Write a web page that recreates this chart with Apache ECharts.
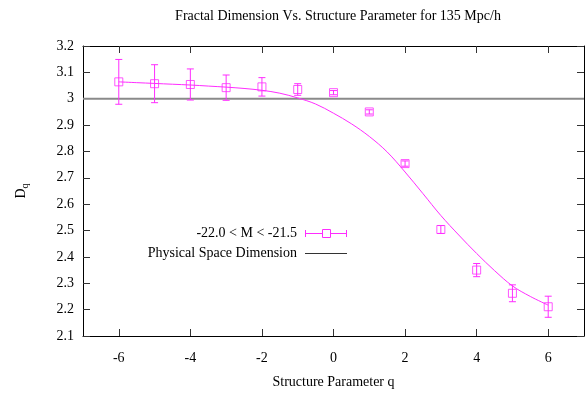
<!DOCTYPE html>
<html>
<head>
<meta charset="utf-8">
<script src="https://cdn.jsdelivr.net/npm/echarts@6/dist/echarts.min.js"></script>
<style>
html,body{margin:0;padding:0;background:#fff;}
#chart{width:587px;height:398px;}
</style>
</head>
<body>
<div id="chart"></div>
<script>
// ---- data ----
var qValues = [-6, -5, -4, -3, -2, -1, 0, 1, 2, 3, 4, 5, 6];
var dValues = [3.064, 3.057, 3.054, 3.042, 3.045, 3.035, 3.023, 2.950, 2.754, 2.504, 2.350, 2.262, 2.211];
var dErrors = [0.085, 0.072, 0.059, 0.048, 0.035, 0.022, 0.008, 0.008, 0.010, 0.015, 0.025, 0.032, 0.040];

var fitQ = [-6, -5.5, -5, -4.5, -4, -3.5, -3, -2.5, -2, -1.5, -1, -0.5, 0, 0.5, 1, 1.5, 2, 2.5, 3, 3.5, 4, 4.5, 5, 5.5, 6];
var fitD = [3.064, 3.061, 3.058, 3.055, 3.052, 3.048, 3.044, 3.039, 3.032, 3.021, 3.003, 2.980, 2.945, 2.905, 2.857, 2.798, 2.722, 2.640, 2.557, 2.483, 2.413, 2.348, 2.290, 2.250, 2.217];

var physQ = [-7, 7];
var physD = [3, 3];

var xTicks = [-6, -4, -2, 0, 2, 4, 6];
var yTicks = [2.1, 2.2, 2.3, 2.4, 2.5, 2.6, 2.7, 2.8, 2.9, 3.0, 3.1, 3.2];

var titleText = 'Fractal Dimension Vs. Structure Parameter for 135 Mpc/h';
var xName = 'Structure Parameter q';
var seriesName = '-22.0 < M < -21.5';
var refName = 'Physical Space Dimension';

// ---- build ----
var MAG = '#ff2cff';
var FONT = '"Liberation Serif", "DejaVu Serif", serif';
var FS = 14;

var pointData = qValues.map(function (q, i) { return [q, dValues[i], dErrors[i]]; });
var fitData = fitQ.map(function (q, i) { return [q, fitD[i]]; });
var physData = physQ.map(function (q, i) { return [q, physD[i]]; });

var chart = echarts.init(document.getElementById('chart'), null, {renderer: 'canvas'});

function baseX(pos, showLabels) {
  return {
    type: 'value', position: pos, min: -7, max: 7,
    axisLine: {show: true, onZero: false, lineStyle: {color: '#000', width: 1}},
    axisTick: {show: true, inside: true, length: 7, customValues: xTicks, lineStyle: {color: '#333'}},
    axisLabel: {show: showLabels, customValues: xTicks, margin: 15, color: '#000', fontFamily: FONT, fontSize: FS},
    splitLine: {show: false}
  };
}
function baseY(pos, showLabels) {
  return {
    type: 'value', position: pos, min: 2.1, max: 3.2,
    axisLine: {show: true, onZero: false, lineStyle: {color: '#000', width: 1}},
    axisTick: {show: true, inside: true, length: 7, customValues: yTicks, lineStyle: {color: '#333'}},
    axisLabel: {show: showLabels, customValues: yTicks, margin: 9, color: '#000', fontFamily: FONT, fontSize: FS,
      formatter: function (v) { return String(Math.round(v * 10) / 10); }},
    splitLine: {show: false}
  };
}

var xBottom = baseX('bottom', true);
xBottom.name = xName;
xBottom.nameLocation = 'middle';
xBottom.nameGap = 46;
xBottom.nameTextStyle = {fontFamily: FONT, fontSize: FS, color: '#000', verticalAlign: 'middle'};
var xTop = baseX('top', false);

var yLeft = baseY('left', true);
yLeft.name = '{d|D}{q|q}';
yLeft.nameLocation = 'middle';
yLeft.nameRotate = 90;
yLeft.nameGap = 62;
yLeft.nameTextStyle = {
  fontFamily: FONT, color: '#000', verticalAlign: 'middle',
  rich: {
    d: {fontFamily: FONT, fontSize: FS, color: '#000'},
    q: {fontFamily: FONT, fontSize: 10, color: '#000', verticalAlign: 'bottom', padding: [8, 0, 0, 0]}
  }
};
var yRight = baseY('right', false);

var option = {
  animation: false,
  backgroundColor: '#fff',
  title: {
    text: titleText, left: 333, top: 4, textAlign: 'center',
    textStyle: {fontFamily: FONT, fontSize: FS, fontWeight: 'normal', color: '#000'}
  },
  grid: {left: 83, right: 3, top: 46, bottom: 62, containLabel: false},
  xAxis: [xBottom, xTop],
  yAxis: [yLeft, yRight],
  series: [
    {
      name: refName, type: 'line', data: physData, xAxisIndex: 0, yAxisIndex: 0,
      symbol: 'none', lineStyle: {color: '#8a8a8a', width: 2}, z: 1
    },
    {
      name: 'fit', type: 'line', data: fitData, xAxisIndex: 0, yAxisIndex: 0,
      symbol: 'none', smooth: 0.35, lineStyle: {color: MAG, width: 1}, z: 2
    },
    {
      name: seriesName + ' err', type: 'custom', data: pointData, xAxisIndex: 0, yAxisIndex: 0, z: 3,
      renderItem: function (params, api) {
        var x = api.value(0), y = api.value(1), e = api.value(2);
        var top = api.coord([x, y + e]);
        var bot = api.coord([x, y - e]);
        var hw = 3.5;
        var st = {stroke: MAG, lineWidth: 1};
        return {
          type: 'group',
          children: [
            {type: 'line', shape: {x1: top[0], y1: top[1], x2: bot[0], y2: bot[1]}, style: st},
            {type: 'line', shape: {x1: top[0] - hw, y1: top[1], x2: top[0] + hw, y2: top[1]}, style: st},
            {type: 'line', shape: {x1: bot[0] - hw, y1: bot[1], x2: bot[0] + hw, y2: bot[1]}, style: st}
          ]
        };
      }
    },
    {
      name: seriesName, type: 'scatter', data: pointData, xAxisIndex: 0, yAxisIndex: 0, z: 4,
      symbol: 'rect', symbolSize: 8,
      itemStyle: {color: 'rgba(0,0,0,0)', borderColor: MAG, borderWidth: 1}
    }
  ],
  graphic: [
    {type: 'text', x: 297, y: 233, style: {text: seriesName, align: 'right', verticalAlign: 'middle', font: FS + 'px ' + FONT, fill: '#000'}},
    {type: 'line', shape: {x1: 305, y1: 233.5, x2: 347, y2: 233.5}, style: {stroke: MAG, lineWidth: 1}},
    {type: 'line', shape: {x1: 305.5, y1: 230, x2: 305.5, y2: 237}, style: {stroke: MAG, lineWidth: 1}},
    {type: 'line', shape: {x1: 346.5, y1: 230, x2: 346.5, y2: 237}, style: {stroke: MAG, lineWidth: 1}},
    {type: 'rect', shape: {x: 322.5, y: 229.5, width: 8, height: 8}, style: {fill: '#fff', stroke: MAG, lineWidth: 1}},
    {type: 'text', x: 297, y: 253, style: {text: refName, align: 'right', verticalAlign: 'middle', font: FS + 'px ' + FONT, fill: '#000'}},
    {type: 'line', shape: {x1: 305, y1: 253.5, x2: 347, y2: 253.5}, style: {stroke: '#333', lineWidth: 1}}
  ]
};
chart.setOption(option);
</script>
</body>
</html>
